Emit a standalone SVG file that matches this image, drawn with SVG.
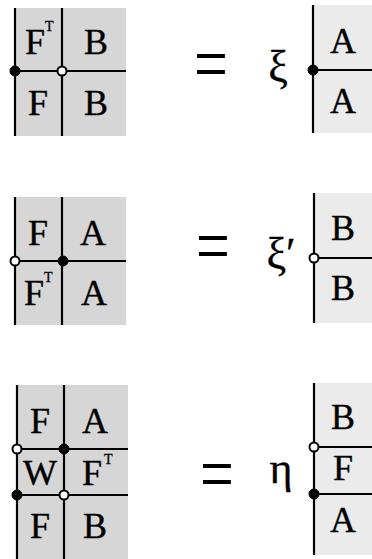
<svg xmlns="http://www.w3.org/2000/svg" width="372" height="559" viewBox="0 0 372 559">
<style>
.bg{fill:#fff}
.sh{fill:#d6d6d6}
.shl{fill:#ebebeb}
.ln{stroke:#000;stroke-width:2.2;fill:none}
.fd{fill:#000;stroke:#000;stroke-width:1}
.od{fill:#fff;stroke:#000;stroke-width:2}
.t{font-family:"Liberation Serif","Times New Roman",serif;font-size:36px;fill:#000;stroke:#000;stroke-width:0.4;text-anchor:middle}
.sup{font-family:"Liberation Serif","Times New Roman",serif;font-size:14px;fill:#000;stroke:#000;stroke-width:0.3}
.eq{font-family:"Liberation Serif","Times New Roman",serif;font-size:60px;fill:#000;text-anchor:middle}
.g{font-family:"Liberation Serif","Times New Roman",serif;font-size:44px;fill:#000;stroke:#000;stroke-width:0.3;text-anchor:middle}
</style>
<rect class="bg" width="372" height="559"/>

<!-- Row 1 -->
<g id="lhs1">
<rect class="sh" x="15" y="8" width="111" height="128"/>
<line class="ln" x1="15" y1="8" x2="15" y2="136"/>
<line class="ln" x1="62" y1="8" x2="62" y2="136"/>
<line class="ln" x1="15" y1="71" x2="126" y2="71"/>
<circle class="fd" cx="15" cy="71" r="5"/>
<circle class="od" cx="62" cy="71" r="4.5"/>
<text class="t" x="35" y="54">F</text><text class="sup" x="45" y="31">T</text>
<text class="t" x="96" y="54">B</text>
<text class="t" x="38" y="115">F</text>
<text class="t" x="96" y="115">B</text>
</g>
<g id="eq1"><text class="eq" x="211" y="88" transform="translate(0,-24) scale(1,1.3)">=</text></g>
<g id="xi"><text class="g" x="278" y="81">ξ</text></g>
<g id="rhs1">
<rect class="shl" x="314" y="5" width="58" height="128"/>
<line class="ln" x1="313" y1="5" x2="313" y2="133"/>
<line class="ln" x1="313" y1="70" x2="372" y2="70"/>
<circle class="fd" cx="313" cy="70" r="5"/>
<text class="t" x="343" y="53">A</text>
<text class="t" x="343" y="113">A</text>
</g>

<!-- Row 2 -->
<g id="lhs2">
<rect class="sh" x="15" y="197" width="111" height="128"/>
<line class="ln" x1="15" y1="197" x2="15" y2="325"/>
<line class="ln" x1="62" y1="197" x2="62" y2="325"/>
<line class="ln" x1="15" y1="261" x2="126" y2="261"/>
<circle class="od" cx="15" cy="261" r="4.5"/>
<circle class="fd" cx="63" cy="261" r="5"/>
<text class="t" x="38" y="245">F</text>
<text class="t" x="93" y="245">A</text>
<text class="t" x="34" y="305">F</text><text class="sup" x="44" y="282">T</text>
<text class="t" x="94" y="305">A</text>
</g>
<g id="eq2"><text class="eq" x="213" y="272" transform="translate(0,-81.5) scale(1,1.3)">=</text></g>
<g id="xip"><text class="g" x="281" y="268">ξ′</text></g>
<g id="rhs2">
<rect class="shl" x="315" y="193" width="57" height="130"/>
<line class="ln" x1="314" y1="193" x2="314" y2="323"/>
<line class="ln" x1="314" y1="258" x2="372" y2="258"/>
<circle class="od" cx="314" cy="258" r="4.5"/>
<text class="t" x="343" y="240">B</text>
<text class="t" x="343" y="300">B</text>
</g>

<!-- Row 3 -->
<g id="lhs3">
<rect class="sh" x="17" y="385" width="111" height="174"/>
<line class="ln" x1="17" y1="385" x2="17" y2="559"/>
<line class="ln" x1="64" y1="385" x2="64" y2="559"/>
<line class="ln" x1="17" y1="449" x2="128" y2="449"/>
<line class="ln" x1="17" y1="495" x2="128" y2="495"/>
<circle class="od" cx="17" cy="449" r="4.5"/>
<circle class="fd" cx="64" cy="449" r="5"/>
<circle class="fd" cx="17" cy="495" r="5"/>
<circle class="od" cx="64" cy="495" r="4.5"/>
<text class="t" x="40" y="433">F</text>
<text class="t" x="95" y="433">A</text>
<text class="t" x="40" y="485">W</text>
<text class="t" x="92" y="485">F</text><text class="sup" x="104" y="464">T</text>
<text class="t" x="40" y="538">F</text>
<text class="t" x="95" y="538">B</text>
</g>
<g id="eq3"><text class="eq" x="217" y="492" transform="translate(0,-140) scale(1,1.3)">=</text></g>
<g id="eta"><text class="g" x="281" y="483">η</text></g>
<g id="rhs3">
<rect class="shl" x="315" y="383" width="57" height="172"/>
<line class="ln" x1="314" y1="383" x2="314" y2="555"/>
<line class="ln" x1="314" y1="447" x2="372" y2="447"/>
<line class="ln" x1="314" y1="494" x2="372" y2="494"/>
<circle class="od" cx="314" cy="447" r="4.5"/>
<circle class="fd" cx="314" cy="494" r="5"/>
<text class="t" x="343" y="429">B</text>
<text class="t" x="343" y="480">F</text>
<text class="t" x="343" y="532">A</text>
</g>
</svg>
